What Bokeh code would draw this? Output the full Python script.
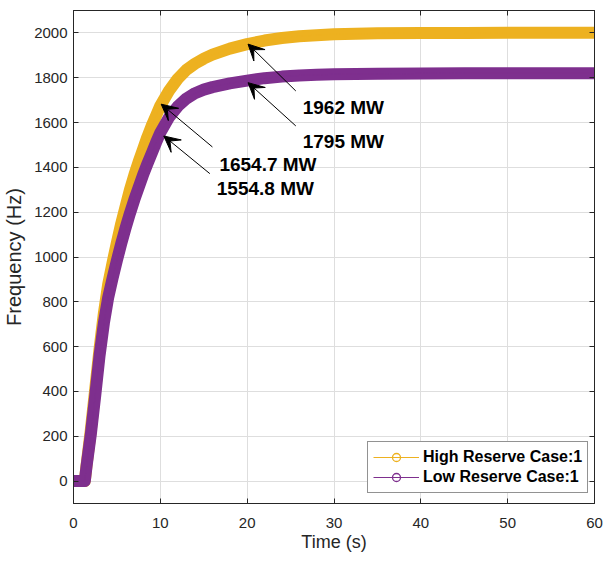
from bokeh.plotting import figure
from bokeh.models import (LinearAxis, Range1d, Legend, LegendItem, Arrow, VeeHead,
                          Label, ColumnDataSource, FixedTicker)
from bokeh.embed import file_html
from bokeh.resources import INLINE

# ---- data ----
time_s = [0, 0.5, 1.0, 1.3, 1.5, 2.0, 2.5, 3.0, 3.5, 4.0, 4.5, 5.0, 5.5, 6.0, 6.5, 7.0, 7.5,
          8.0, 8.5, 9.0, 9.5, 10, 11, 12, 13, 14, 15, 16, 18, 20, 22, 24, 26, 28, 30, 35,
          40, 45, 50, 55, 60]
high_reserve = [0, 0, 0, 0, 70, 230, 410, 590, 750, 880, 975, 1065, 1150, 1225, 1300, 1365,
                1425, 1480, 1535, 1585, 1630, 1675, 1742, 1795, 1835, 1863, 1885, 1903, 1930,
                1950, 1966, 1977, 1985, 1990, 1994, 1998, 2000, 2000, 2001, 2001, 2001]
low_reserve = [0, 0, 0, 0, 65, 210, 380, 560, 705, 820, 905, 985, 1060, 1130, 1195, 1255,
               1310, 1365, 1415, 1462, 1510, 1555, 1623, 1672, 1707, 1731, 1747, 1758, 1775,
               1787, 1798, 1805, 1810, 1813, 1815, 1818, 1819, 1820, 1820, 1820, 1820]
series_names = ["High Reserve Case:1", "Low Reserve Case:1"]
series_colors = ["#EDB120", "#7E2F8E"]
x_ticks = [0, 10, 20, 30, 40, 50, 60]
y_ticks = [0, 200, 400, 600, 800, 1000, 1200, 1400, 1600, 1800, 2000]

# annotations: (text, text_x, text_y, arrow tail x, tail y, tip x, tip y)
annotations = [
    ("1962 MW", 26.4, 1665, 25.6, 1741, 20.1, 1950),
    ("1795 MW", 26.4, 1515, 25.6, 1585, 20.1, 1778),
    ("1654.7 MW", 16.8, 1415, 16.0, 1491, 10.1, 1682),
    ("1554.8 MW", 16.5, 1304, 15.7, 1372, 10.4, 1540),
]

FONT = "Liberation Sans"
AXC = "#262626"

p = figure(width=603, height=564, output_backend="svg", toolbar_location=None,
           x_range=Range1d(0, 60), y_range=Range1d(-100, 2100),
           min_border_left=73, min_border_right=9, min_border_top=10, min_border_bottom=61,
           x_axis_label="Time (s)", y_axis_label="Frequency (Hz)")
p.background_fill_color = "white"
p.border_fill_color = "white"
p.outline_line_color = AXC
p.outline_line_width = 1

for ax, ticks in ((p.xaxis[0], x_ticks), (p.yaxis[0], y_ticks)):
    ax.ticker = FixedTicker(ticks=ticks)
    ax.minor_tick_line_color = None
    ax.major_tick_in = 5
    ax.major_tick_out = 0
    ax.axis_line_color = AXC
    ax.major_tick_line_color = AXC
    ax.major_label_text_font = FONT
    ax.major_label_text_font_size = "15px"
    ax.major_label_text_color = AXC
    ax.axis_label_text_font = FONT
    ax.axis_label_text_font_style = "normal"
    ax.axis_label_text_color = AXC
p.xaxis.axis_label_text_font_size = "18px"
p.yaxis.axis_label_text_font_size = "20px"
p.xaxis.major_label_standoff = 14
p.xaxis.axis_label_standoff = 1
p.yaxis.major_label_standoff = 6
p.yaxis.axis_label_standoff = 6

for loc, ticks in (("above", x_ticks), ("right", y_ticks)):
    a = LinearAxis(ticker=FixedTicker(ticks=ticks), major_tick_in=5, major_tick_out=0,
                   minor_tick_line_color=None, axis_line_color=AXC,
                   major_tick_line_color=AXC,
                   major_label_overrides={t: "" for t in ticks},
                   major_label_standoff=0)
    p.add_layout(a, loc)

p.xgrid.ticker = FixedTicker(ticks=x_ticks)
p.ygrid.ticker = FixedTicker(ticks=y_ticks)
p.grid.grid_line_color = "#dedede"
p.grid.grid_line_width = 1

src = ColumnDataSource(dict(t=time_s, high=high_reserve, low=low_reserve))
items = []
for col, name, color in (("high", series_names[0], series_colors[0]),
                         ("low", series_names[1], series_colors[1])):
    mk = p.scatter("t", col, source=src, marker="circle", size=9, fill_color=None,
                   line_color=color, line_width=1.3)
    p.line("t", col, source=src, line_color=color, line_width=12,
           line_cap="round", line_join="round")
    thin = p.line("t", col, source=src, line_color=color, line_width=1)
    items.append(LegendItem(label=name, renderers=[thin, mk]))

for txt, tx, ty, x0, y0, x1, y1 in annotations:
    p.add_layout(Arrow(x_start=x0, y_start=y0, x_end=x1, y_end=y1,
                       line_color="black", line_width=1,
                       end=VeeHead(size=16, fill_color="black", line_color="black")))
    p.add_layout(Label(x=tx, y=ty, text=txt, text_font=FONT, text_font_size="19px",
                       text_font_style="bold", text_color="black",
                       text_baseline="middle", text_align="left"))

legend = Legend(items=items, location=(294, 10), glyph_width=46, glyph_height=20,
                label_text_font=FONT, label_text_font_size="16px",
                label_text_font_style="bold", label_text_color="black",
                label_height=20,
                border_line_color=AXC, border_line_width=1, background_fill_alpha=1,
                spacing=0, padding=5, margin=0, label_standoff=4)
p.add_layout(legend)

open("out.html", "w").write(file_html(p, INLINE))
